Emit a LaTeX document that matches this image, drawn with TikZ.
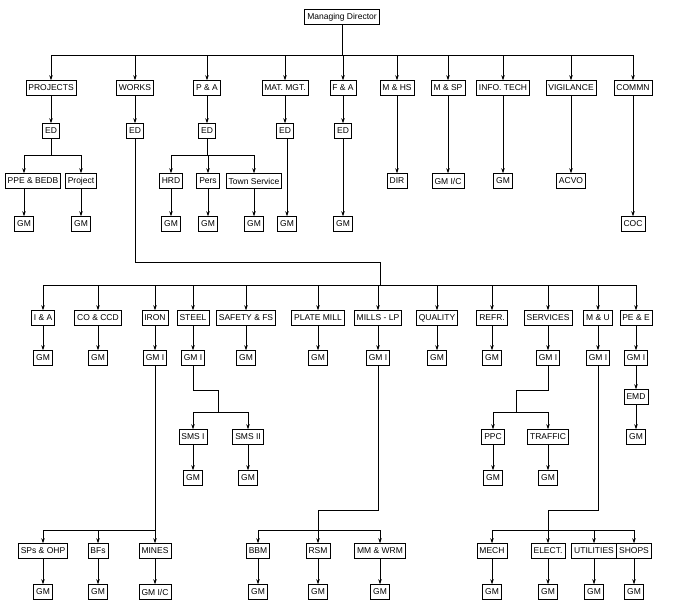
\documentclass[tikz,border=0pt]{standalone}
\usepackage{fontspec}
\setmainfont{Liberation Sans}
\usetikzlibrary{arrows.meta}
\begin{document}
\begin{tikzpicture}[x=1pt,y=-1pt,
  b/.style={draw,fill=white,font=\fontsize{8.5}{9}\selectfont,inner xsep=2.5pt,inner ysep=0pt,minimum height=15pt},
  ar/.style={-{Stealth[length=5pt,width=3.5pt]}},
  every path/.style={line width=0.6pt}]
\useasboundingbox (0,0) rectangle (674,611);
% top
\node[b] (md) at (342,17) {Managing Director};
\foreach \n/\x/\t in {pr/51/PROJECTS,wk/135/WORKS,pa/207/P \& A,mm/285/MAT. MGT.,fa/343/F \& A,mh/397/M \& HS,ms/448/M \& SP,it/503/INFO. TECH,vg/571/VIGILANCE,cm/633/COMMN}
  \node[b] (\n) at (\x,88) {\t};
\coordinate (b1) at (0,55);
\draw (md) -- (md |- b1);
\draw (pr |- b1) -- (cm |- b1);
\foreach \n in {pr,wk,pa,mm,fa,mh,ms,it,vg,cm} \draw[ar] (\n |- b1) -- (\n);
\foreach \n/\x in {epr/51,ewk/135,epa/207,emm/285,efa/343} \node[b] (\n) at (\x,131) {ED};
\foreach \a/\e in {pr/epr,wk/ewk,pa/epa,mm/emm,fa/efa} \draw[ar] (\a) -- (\e);
\node[b] (dir) at (397,181) {DIR};
\node[b] (gms) at (448,181) {GM I/C};
\node[b] (gmi) at (503,181) {GM};
\node[b] (acvo) at (571,181) {ACVO};
\node[b] (coc) at (633,224) {COC};
\draw[ar] (mh) -- (dir); \draw[ar] (ms) -- (gms); \draw[ar] (it) -- (gmi); \draw[ar] (vg) -- (acvo); \draw[ar] (cm) -- (coc);
% projects
\node[b] (ppe) at (33,181) {PPE \& BEDB};
\node[b] (prj) at (81,181) {Project};
\coordinate (b2) at (0,155);
\draw (epr) -- (epr |- b2);
\draw (24,155) -- (prj |- b2);
\coordinate (ppeA) at (24,155);
\draw[ar] (ppeA) -- (ppe.north -| ppeA);
\draw[ar] (prj |- b2) -- (prj);
\node[b] (g1) at (24,224) {GM};
\node[b] (g2) at (81,224) {GM};
\draw[ar] (ppe.south -| g1) -- (g1); \draw[ar] (prj) -- (g2);
% P&A
\node[b] (hrd) at (171,181) {HRD};
\node[b] (pers) at (208,181) {Pers};
\node[b] (town) at (254,181) {Town Service};
\draw (epa) -- (epa |- b2);
\draw (hrd |- b2) -- (town |- b2);
\foreach \n in {hrd,pers,town} \draw[ar] (\n |- b2) -- (\n);
\node[b] (g3) at (171,224) {GM};
\node[b] (g4) at (208,224) {GM};
\node[b] (g5) at (254,224) {GM};
\node[b] (g6) at (287,224) {GM};
\node[b] (g7) at (343,224) {GM};
\draw[ar] (hrd) -- (g3); \draw[ar] (pers) -- (g4); \draw[ar] (town) -- (g5);
\draw[ar] (emm.south -| g6) -- (g6); \draw[ar] (efa) -- (g7);
% works
\coordinate (b3) at (0,285);
\coordinate (wk1) at (135,262);
\coordinate (wk2) at (380,262);
\draw (ewk) -- (wk1) -- (wk2) -- (wk2 |- b3);
\foreach \n/\x/\t in {ia/43/I \& A,co/98/CO \& CCD,ir/155/IRON,st/193/STEEL,sf/246/SAFETY \& FS,pl/318/PLATE MILL,ml/378/MILLS - LP,ql/437/QUALITY,rf/492/REFR.,sv/548/SERVICES,mu/598/M \& U,pe/636/PE \& E}
  \node[b] (\n) at (\x,318) {\t};
\draw (ia |- b3) -- (pe |- b3);
\foreach \n in {ia,co,ir,st,sf,pl,ml,ql,rf,sv,mu,pe} \draw[ar] (\n |- b3) -- (\n);
\foreach \n/\x/\t in {hia/43/GM,hco/98/GM,hir/155/GM I/C,hst/193/GM I/C,hsf/246/GM,hpl/318/GM,hml/378/GM I/C,hql/437/GM,hrf/492/GM,hsv/548/GM I/C,hmu/598/GM I/C,hpe/636/GM I/C}
  \node[b] (\n) at (\x,358) {\t};
\foreach \a/\e in {ia/hia,co/hco,ir/hir,st/hst,sf/hsf,pl/hpl,ml/hml,ql/hql,rf/hrf,sv/hsv,mu/hmu,pe/hpe} \draw[ar] (\a) -- (\e);
% steel
\coordinate (b4) at (0,412);
\node[b] (sms1) at (193,437) {SMS I};
\node[b] (sms2) at (248,437) {SMS II};
\coordinate (s1) at (193,390); \coordinate (s2) at (218,390);
\draw (hst) -- (s1) -- (s2) -- (s2 |- b4);
\draw (sms1 |- b4) -- (sms2 |- b4);
\draw[ar] (sms1 |- b4) -- (sms1); \draw[ar] (sms2 |- b4) -- (sms2);
\node[b] (k1) at (193,478) {GM}; \node[b] (k2) at (248,478) {GM};
\draw[ar] (sms1) -- (k1); \draw[ar] (sms2) -- (k2);
% services
\node[b] (ppc) at (493,437) {PPC};
\node[b] (trf) at (548,437) {TRAFFIC};
\coordinate (v1) at (548,390); \coordinate (v2) at (516,390);
\draw (hsv) -- (v1) -- (v2) -- (v2 |- b4);
\draw (ppc |- b4) -- (trf |- b4);
\draw[ar] (ppc |- b4) -- (ppc); \draw[ar] (trf |- b4) -- (trf);
\node[b] (k3) at (493,478) {GM}; \node[b] (k4) at (548,478) {GM};
\draw[ar] (ppc) -- (k3); \draw[ar] (trf) -- (k4);
% PE&E
\node[b] (emd) at (636,397) {EMD};
\node[b] (k5) at (636,437) {GM};
\draw[ar] (hpe) -- (emd); \draw[ar] (emd) -- (k5);
% iron
\coordinate (b5) at (0,530);
\node[b] (sp) at (43,551) {SPs \& OHP};
\node[b] (bf) at (98,551) {BFs};
\node[b] (mi) at (155,551) {MINES};
\draw (hir) -- (hir |- b5);
\draw (sp |- b5) -- (mi |- b5);
\foreach \n in {sp,bf,mi} \draw[ar] (\n |- b5) -- (\n);
\node[b] (m1) at (43,592) {GM}; \node[b] (m2) at (98,592) {GM}; \node[b] (m3) at (155,592) {GM I/C};
\draw[ar] (sp) -- (m1); \draw[ar] (bf) -- (m2); \draw[ar] (mi) -- (m3);
% mills
\node[b] (bbm) at (258,551) {BBM};
\node[b] (rsm) at (318,551) {RSM};
\node[b] (mmw) at (380,551) {MM \& WRM};
\coordinate (l1) at (378,510); \coordinate (l2) at (318,510);
\draw (hml) -- (l1) -- (l2) -- (l2 |- b5);
\draw (bbm |- b5) -- (mmw |- b5);
\foreach \n in {bbm,rsm,mmw} \draw[ar] (\n |- b5) -- (\n);
\node[b] (m4) at (258,592) {GM}; \node[b] (m5) at (318,592) {GM}; \node[b] (m6) at (380,592) {GM};
\draw[ar] (bbm) -- (m4); \draw[ar] (rsm) -- (m5); \draw[ar] (mmw) -- (m6);
% M&U
\node[b] (mec) at (492,551) {MECH};
\node[b] (ele) at (548,551) {ELECT.};
\node[b] (uti) at (594,551) {UTILITIES};
\node[b] (sho) at (634,551) {SHOPS};
\coordinate (u1) at (598,510); \coordinate (u2) at (548,510);
\draw (hmu) -- (u1) -- (u2) -- (u2 |- b5);
\draw (mec |- b5) -- (sho |- b5);
\foreach \n in {mec,ele,uti,sho} \draw[ar] (\n |- b5) -- (\n);
\node[b] (m7) at (492,592) {GM}; \node[b] (m8) at (548,592) {GM}; \node[b] (m9) at (594,592) {GM}; \node[b] (m10) at (634,592) {GM};
\draw[ar] (mec) -- (m7); \draw[ar] (ele) -- (m8); \draw[ar] (uti) -- (m9); \draw[ar] (sho) -- (m10);
\end{tikzpicture}
\end{document}
